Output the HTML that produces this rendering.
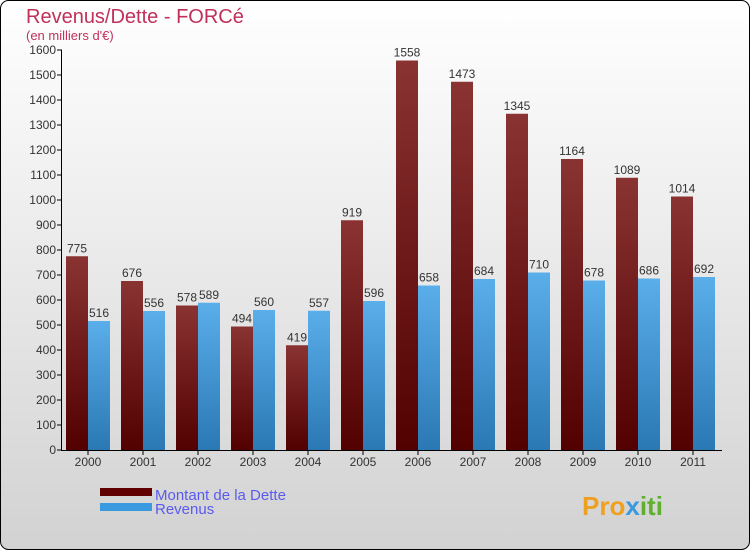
<!DOCTYPE html>
<html><head><meta charset="utf-8"><style>
body{margin:0;width:750px;height:550px;overflow:hidden;font-family:"Liberation Sans",sans-serif}
</style></head><body>
<svg id="c" width="750" height="550" xmlns="http://www.w3.org/2000/svg">
<defs>
<linearGradient id="bg" x1="0" y1="0" x2="0" y2="1"><stop offset="0" stop-color="#ffffff"/><stop offset="1" stop-color="#d2d2d2"/></linearGradient>
<linearGradient id="gd" x1="0" y1="0" x2="0" y2="1"><stop offset="0" stop-color="#8a3333"/><stop offset="1" stop-color="#520000"/></linearGradient>
<linearGradient id="gr" x1="0" y1="0" x2="0" y2="1"><stop offset="0" stop-color="#5aaeea"/><stop offset="1" stop-color="#2a78b4"/></linearGradient>
</defs>
<rect x="0.5" y="0.5" width="749" height="549" rx="8" fill="url(#bg)" stroke="#000"/>
<text x="26" y="23" font-size="20" fill="#c0305a">Revenus/Dette - FORCé</text>
<text x="26" y="40" font-size="13" fill="#c0305a">(en milliers d'€)</text>
<g id="plot"></g>
<rect x="100" y="488" width="52" height="8" fill="#600000"/>
<text x="155" y="500" font-size="15" fill="#5a5af0">Montant de la Dette</text>
<rect x="100" y="503" width="52" height="8" fill="#3a9ae0"/>
<text x="155" y="514" font-size="15" fill="#5a5af0">Revenus</text>
<text x="582" y="515" font-size="26" font-weight="bold" fill="#f0a020">Pro<tspan fill="#3a9ae0">x</tspan><tspan fill="#60b030">iti</tspan></text>
</svg>
<script>
const years=["2000","2001","2002","2003","2004","2005","2006","2007","2008","2009","2010","2011"];
const dette=[775,676,578,494,419,919,1558,1473,1345,1164,1089,1014];
const revenus=[516,556,589,560,557,596,658,684,710,678,686,692];
const yTicks=[0,100,200,300,400,500,600,700,800,900,1000,1100,1200,1300,1400,1500,1600];
const NS="http://www.w3.org/2000/svg";
const g=document.getElementById('plot');
const x0=62,gw=55,y0=450,yMax=1600,h=400;
const y=v=>y0-v/yMax*h;
function mk(t,a){const e=document.createElementNS(NS,t);for(const k in a)e.setAttribute(k,a[k]);g.appendChild(e);return e;}
yTicks.forEach(v=>{
 const l=mk('line',{x1:57,x2:62,y1:y(v),y2:y(v),stroke:'#000'});
 
 
 const t=mk('text',{x:56,y:y(v)+4,'font-size':12,'text-anchor':'end',fill:'#333'});
 t.textContent=v;
 
 
});
years.forEach((yr,i)=>{
 const gx=x0+i*gw;
 const b1=mk('rect',{x:gx+4,y:y(dette[i]),width:22,height:y0-y(dette[i]),fill:'url(#gd)'});
 
 
 const b2=mk('rect',{x:gx+26,y:y(revenus[i]),width:22,height:y0-y(revenus[i]),fill:'url(#gr)'});
 
 
 const t1=mk('text',{x:gx+15,y:y(dette[i])-4,'font-size':12,'text-anchor':'middle',fill:'#333'});
 t1.textContent=dette[i];
 
 
 const t2=mk('text',{x:gx+37,y:y(revenus[i])-4,'font-size':12,'text-anchor':'middle',fill:'#333'});
 t2.textContent=revenus[i];
 
 
 const tk=mk('line',{x1:gx+26,x2:gx+26,y1:450,y2:455,stroke:'#000'});
 
 
 const xl=mk('text',{x:gx+26,y:466,'font-size':12,'text-anchor':'middle',fill:'#333'});
 xl.textContent=yr;
 
 
});
const ax=mk('line',{x1:61.5,x2:61.5,y1:50,y2:450,stroke:'#000'});


const bx=mk('line',{x1:61,x2:722,y1:450.5,y2:450.5,stroke:'#000'});


</script>
</body></html>
